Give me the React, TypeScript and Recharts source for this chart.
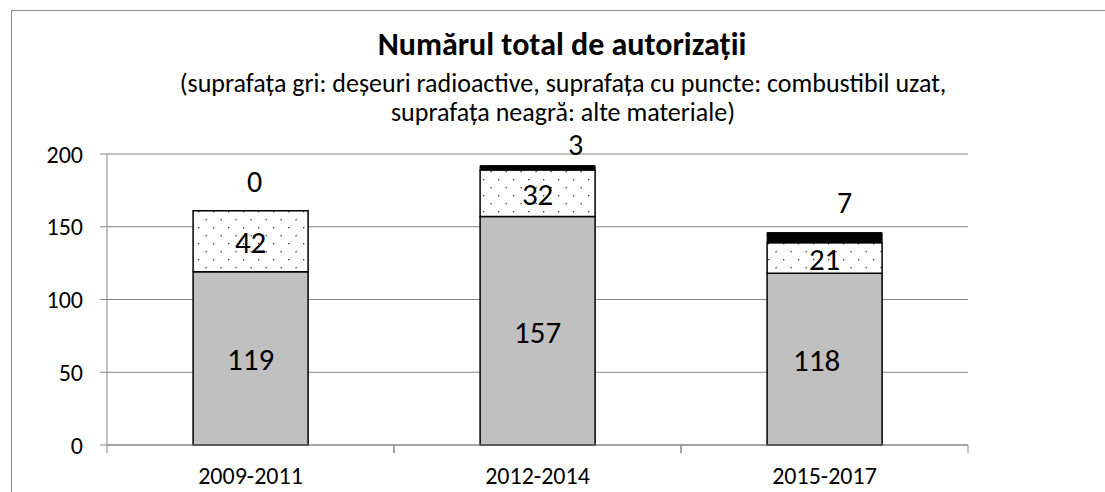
import React from 'react';
import { BarChart, Bar, XAxis, YAxis, CartesianGrid, LabelList } from 'recharts';

const categories = ['2009-2011', '2012-2014', '2015-2017'];
const radioactiveWaste = [119, 157, 118];
const spentFuel = [42, 32, 21];
const otherMaterials = [0, 3, 7];
const yTicks = [0, 50, 100, 150, 200];

const titleText = 'Numărul total de autorizații';
const subtitleLine1 = '(suprafața gri: deșeuri radioactive, suprafața cu puncte: combustibil uzat,';
const subtitleLine2 = 'suprafața neagră: alte materiale)';

const data = categories.map((c, i) => ({
  category: c,
  gri: radioactiveWaste[i],
  puncte: spentFuel[i],
  neagra: otherMaterials[i],
}));

const FONT = "Carlito, Calibri, Lato, sans-serif";
const GRID = '#868686';

// manual label nudges (the original's labels were hand-moved)
const blackLabelShift = [
  { dx: 4, dy: -19 },
  { dx: 38, dy: -15 },
  { dx: 20, dy: -30 },
];
const grayLabelShift = [0, 0, -8];

const XTick = (props: any) => {
  const { x, y, payload } = props;
  const half = payload && payload.offset ? payload.offset : 143.5;
  return (
    <g>
      <line x1={x - half} y1={y} x2={x - half} y2={y + 8} stroke={GRID} strokeWidth={1} />
      <line x1={x + half} y1={y} x2={x + half} y2={y + 8} stroke={GRID} strokeWidth={1} />
      <text x={x} y={y + 39} textAnchor="middle" fontSize={24} fill="#000" fontFamily={FONT}>
        {payload.value}
      </text>
    </g>
  );
};

// drawn from the dotted segment so that a zero-height black segment still gets its label
const BlackLabel = (props: any) => {
  const { x, y, width, value, index } = props;
  const s = blackLabelShift[index] || { dx: 0, dy: -20 };
  return (
    <text x={x + width / 2 + s.dx} y={y + s.dy} textAnchor="middle" fontSize={30} fill="#000" fontFamily={FONT}>
      {value}
    </text>
  );
};

const CenterLabel = (shifts: number[] | null) => (props: any) => {
  const { x, y, width, height, value, index } = props;
  const dx = shifts ? shifts[index] || 0 : 0;
  return (
    <text x={x + width / 2 + dx} y={y + height / 2 + 12} textAnchor="middle" fontSize={31} fill="#000" fontFamily={FONT}>
      {value}
    </text>
  );
};

export default function App() {
  return (
    <div style={{ position: 'absolute', left: 0, top: 0, width: 1105, height: 492, overflow: 'hidden', background: '#fff' }}>
      <div style={{ position: 'absolute', left: 11, top: 10, width: 1200, height: 600, border: '1px solid #8c8c8c' }} />
      <svg width={1105} height={140} style={{ position: 'absolute', left: 0, top: 0 }}>
        <text x={562} y={55} textAnchor="middle" fontFamily={FONT} fontWeight="bold" fontSize={32} fill="#000">
          {titleText}
        </text>
        <text x={563} y={92} textAnchor="middle" fontFamily={FONT} fontSize={26} fill="#000">
          {subtitleLine1}
        </text>
        <text x={563} y={121} textAnchor="middle" fontFamily={FONT} fontSize={26} fill="#000">
          {subtitleLine2}
        </text>
      </svg>
      <div style={{ position: 'absolute', left: 0, top: 0 }}>
        <BarChart
          width={1105}
          height={492}
          data={data}
          margin={{ top: 154, right: 137, bottom: 0, left: 0 }}
          barCategoryGap="30%"
        >
          <CartesianGrid vertical={false} stroke={GRID} strokeWidth={1} />
          <XAxis
            dataKey="category"
            height={47}
            tickSize={0}
            tickMargin={0}
            tickLine={false}
            axisLine={{ stroke: GRID, strokeWidth: 1 }}
            tick={<XTick />}
            interval={0}
          />
          <YAxis
            width={107}
            domain={[0, 200]}
            ticks={yTicks}
            tickSize={7}
            tickMargin={17}
            axisLine={{ stroke: GRID, strokeWidth: 1 }}
            tickLine={{ stroke: GRID, strokeWidth: 1 }}
            tick={{ fontSize: 24, fill: '#000', fontFamily: FONT }}
            interval={0}
          />
          <defs>
            <pattern id="dots" x="0" y="0" width="15" height="16" patternUnits="userSpaceOnUse">
              <rect x="0" y="0" width="15" height="16" fill="#fff" />
              <rect x="3" y="3" width="1.3" height="1.3" fill="#333" />
              <rect x="10.5" y="11" width="1.3" height="1.3" fill="#333" />
            </pattern>
          </defs>
          <Bar dataKey="gri" stackId="a" fill="#c0c0c0" stroke="#000" strokeWidth={1.5} isAnimationActive={false}>
            <LabelList dataKey="gri" content={CenterLabel(grayLabelShift)} />
          </Bar>
          <Bar dataKey="puncte" stackId="a" fill="url(#dots)" stroke="#000" strokeWidth={1.5} isAnimationActive={false}>
            <LabelList dataKey="puncte" content={CenterLabel(null)} />
            <LabelList dataKey="neagra" content={<BlackLabel />} />
          </Bar>
          <Bar dataKey="neagra" stackId="a" fill="#000" stroke="#000" strokeWidth={1} isAnimationActive={false} />
        </BarChart>
      </div>
    </div>
  );
}
